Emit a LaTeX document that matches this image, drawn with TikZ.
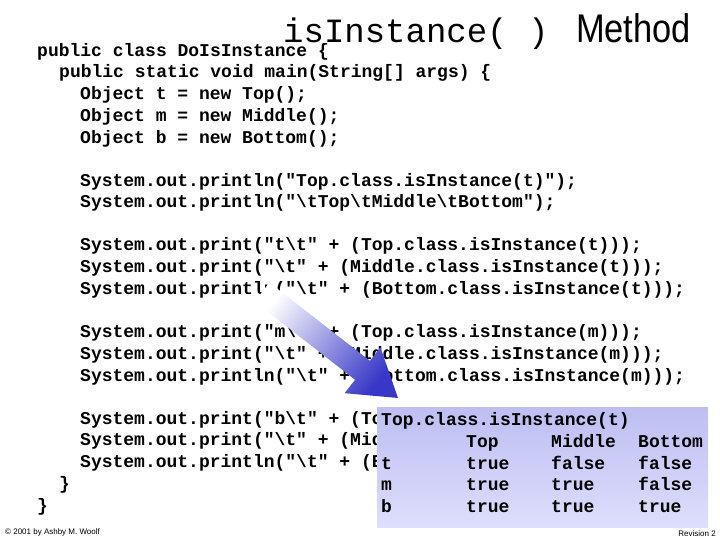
\documentclass[tikz,border=0pt]{standalone}
\usepackage{fontspec}
\setmainfont{Liberation Sans}
\newfontfamily\codefont{Liberation Mono}
\usetikzlibrary{calc}
\newcommand{\bs}{\textbackslash}
\definecolor{arrowblue}{RGB}{55,55,200}
\definecolor{boxtop}{RGB}{190,190,242}
\definecolor{boxbot}{RGB}{222,222,252}
\tikzset{
  code/.style={anchor=base west, inner sep=0pt, font=\codefont\bfseries\fontsize{18}{20}\selectfont},
  foot/.style={inner sep=0pt, font=\fontsize{8}{9}\selectfont},
}
\begin{document}
\begin{tikzpicture}[x=1pt,y=1pt]
\useasboundingbox (0,0) rectangle (720,540);
\fill[white] (0,0) rectangle (720,540);
% title
\node[anchor=base west, inner sep=0pt, font=\codefont\fontsize{34}{36}\selectfont] (t1) at (283,497) {isInstance( )};
\node[anchor=base west, inner sep=0pt, font=\fontsize{40}{42}\selectfont, xscale=0.86] (t2) at (576,497) {Method};
% code
\node[code] (c1) at (37,483) {public class DoIsInstance \{};
\node[code] (c2) at (59,462) {public static void main(String[] args) \{};
\node[code] (c3) at (80,440) {Object t = new Top();};
\node[code] (c4) at (80,418) {Object m = new Middle();};
\node[code] (c5) at (80,396) {Object b = new Bottom();};
\node[code] (c6) at (80,353) {System.out.println("Top.class.isInstance(t)");};
\node[code] (c7) at (80,332) {System.out.println("\bs tTop\bs tMiddle\bs tBottom");};
\node[code] (c8) at (80,289) {System.out.print("t\bs t" + (Top.class.isInstance(t)));};
\node[code] (c9) at (80,267) {System.out.print("\bs t" + (Middle.class.isInstance(t)));};
\node[code] (c10) at (80,245) {System.out.println("\bs t" + (Bottom.class.isInstance(t)));};
\node[code] (c11) at (80,202) {System.out.print("m\bs t" + (Top.class.isInstance(m)));};
\node[code] (c12) at (80,180) {System.out.print("\bs t" + (Middle.class.isInstance(m)));};
\node[code] (c13) at (80,158) {System.out.println("\bs t" + (Bottom.class.isInstance(m)));};
\node[code] (c14) at (80,115) {System.out.print("b\bs t" + (Top.class.isInstance(b)));};
\node[code] (c15) at (80,94) {System.out.print("\bs t" + (Middle.class.isInstance(b)));};
\node[code] (c16) at (80,72) {System.out.println("\bs t" + (Bottom.class.isInstance(b)));};
\node[code] (c17) at (59,50) {\}};
\node[code] (c18) at (37,28) {\}};
% arrow
\shade[left color=white, right color=arrowblue, shading angle=52]
  (269.4,257.4) -- (369.9,179.2) -- (380.4,192.6) -- (398,142) -- (344.6,146.8) -- (355.1,160.2) -- (254.6,238.5) -- cycle;
% table box
\shade[top color=boxtop, bottom color=boxbot] (377,12) rectangle (708,132);
\node[code] (h0) at (381,114) {Top.class.isInstance(t)};
\node[code] (h1) at (466,92) {Top};
\node[code] (h2) at (551,92) {Middle};
\node[code] (h3) at (638,92) {Bottom};
\node[code] (r1) at (381,70) {t};
\node[code] (r1a) at (466,70) {true};
\node[code] (r1b) at (551,70) {false};
\node[code] (r1c) at (638,70) {false};
\node[code] (r2) at (381,49) {m};
\node[code] (r2a) at (466,49) {true};
\node[code] (r2b) at (551,49) {true};
\node[code] (r2c) at (638,49) {false};
\node[code] (r3) at (381,27) {b};
\node[code] (r3a) at (466,27) {true};
\node[code] (r3b) at (551,27) {true};
\node[code] (r3c) at (638,27) {true};
% footer
\node[foot, anchor=west] (f1) at (5,8) {© 2001 by Ashby M. Woolf};
\node[foot, anchor=east] (f2) at (716,6) {Revision 2};
\end{tikzpicture}
\end{document}
